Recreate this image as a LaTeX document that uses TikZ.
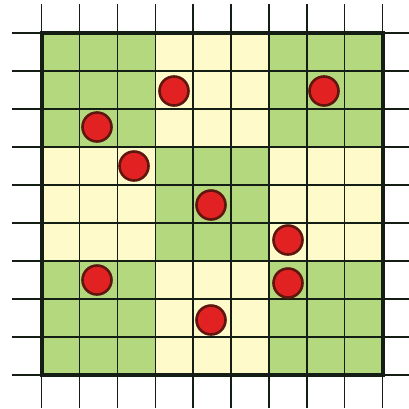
\documentclass[tikz,border=0pt]{standalone}
\definecolor{cgreen}{RGB}{180,216,126}
\definecolor{cyellow}{RGB}{255,250,202}
\definecolor{cred}{RGB}{226,34,34}
\definecolor{cdark}{RGB}{95,22,14}
\definecolor{cline}{RGB}{20,30,20}
\tikzset{
  gridline/.style={line width=1.4pt,draw=cline},
  frame/.style={line width=4pt,draw=cline},
  stone/.style={circle,minimum size=29pt,inner sep=0pt,fill=cred,draw=cdark,line width=2.6pt}
}
\begin{document}
\begin{tikzpicture}[x=1pt,y=-1pt]
\useasboundingbox (0,0) rectangle (409,408);
\def\xo{41.5}\def\dx{37.9}\def\yo{33}\def\dy{38}
% 3x3 blocks
\foreach \i in {0,1,2}{
  \foreach \j in {0,1,2}{
    \pgfmathparse{mod(\i+\j,2)==0 ? "cgreen" : "cyellow"}
    \edef\col{\pgfmathresult}
    \fill[\col] (\xo+3*\i*\dx,\yo+3*\j*\dy) rectangle (\xo+3*\i*\dx+3*\dx,\yo+3*\j*\dy+3*\dy);
  }
}
% grid lines
\foreach \k in {0,...,9}{
  \draw[gridline] (\xo+\k*\dx,4) -- (\xo+\k*\dx,408);
  \draw[gridline] (12,\yo+\k*\dy) -- (409,\yo+\k*\dy);
}
% frame
\draw[frame] (\xo,\yo) rectangle (\xo+9*\dx,\yo+9*\dy);
% stones
\node[stone] (c1) at (174,91) {};
\node[stone] (c2) at (324,91) {};
\node[stone] (c3) at (97,127) {};
\node[stone] (c4) at (134,166) {};
\node[stone] (c5) at (211,205) {};
\node[stone] (c6) at (288,240) {};
\node[stone] (c7) at (97,280) {};
\node[stone] (c8) at (288,283) {};
\node[stone] (c9) at (211,320) {};
\end{tikzpicture}
\end{document}
